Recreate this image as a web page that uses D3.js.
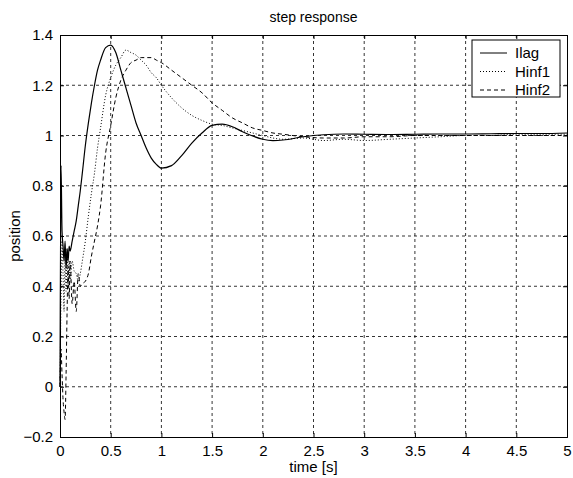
<!DOCTYPE html>
<html>
<head>
<meta charset="utf-8">
<script src="https://cdn.jsdelivr.net/npm/d3@7"></script>
<style>
  body { margin: 0; background: #fff; }
  svg text { font-family: "Liberation Sans", Arial, sans-serif; fill: #000; }
</style>
</head>
<body>
<div id="chart"></div>
<script>
// time samples [s], finer near the start
const time = [0, 0.01, 0.02, 0.03, 0.04, 0.05, 0.06, 0.07, 0.08, 0.09, 0.10, 0.12, 0.14, 0.16, 0.18, 0.20,
  0.22, 0.25, 0.28, 0.31, 0.34, 0.37, 0.40, 0.45, 0.50, 0.55, 0.60, 0.65, 0.70, 0.75, 0.80, 0.85, 0.90,
  0.95, 1.0, 1.1, 1.2, 1.3, 1.4, 1.5, 1.6, 1.7, 1.8, 1.9, 2.0, 2.1, 2.2, 2.4, 2.6, 2.8, 3.0, 3.25, 3.5,
  3.75, 4.0, 4.25, 4.5, 4.75, 5.0];

const ilag = [0, 0.88, 0.62, 0.56, 0.50, 0.58, 0.47, 0.55, 0.50, 0.56, 0.54, 0.58, 0.62, 0.66, 0.72, 0.78,
  0.85, 0.96, 1.05, 1.13, 1.20, 1.26, 1.30, 1.35, 1.36, 1.33, 1.26, 1.19, 1.12, 1.05, 1.00, 0.95, 0.91,
  0.885, 0.87, 0.88, 0.92, 0.97, 1.01, 1.04, 1.045, 1.035, 1.015, 0.998, 0.985, 0.98, 0.982, 0.995, 1.003,
  1.006, 1.005, 1.004, 1.005, 1.006, 1.006, 1.007, 1.008, 1.008, 1.01];

const hinf1 = [0, 0.35, 0.58, 0.45, 0.30, 0.52, 0.38, 0.55, 0.40, 0.50, 0.42, 0.50, 0.46, 0.45, 0.42, 0.45,
  0.50, 0.58, 0.68, 0.77, 0.85, 0.95, 1.03, 1.16, 1.23, 1.28, 1.31, 1.34, 1.33, 1.32, 1.30, 1.28, 1.25,
  1.23, 1.20, 1.15, 1.11, 1.08, 1.06, 1.045, 1.04, 1.03, 1.02, 1.01, 1.0, 0.99, 0.985, 0.99, 0.98,
  0.985, 0.98, 0.985, 0.99, 0.995, 1.0, 1.0, 1.005, 1.005, 1.005];

const hinf2 = [0, 0.15, 0.05, -0.05, -0.10, -0.13, 0.05, 0.30, 0.48, 0.35, 0.50, 0.33, 0.42, 0.30, 0.45, 0.40,
  0.41, 0.42, 0.45, 0.52, 0.58, 0.64, 0.72, 0.93, 1.04, 1.15, 1.22, 1.26, 1.29, 1.30, 1.31, 1.31, 1.31,
  1.30, 1.29, 1.26, 1.23, 1.20, 1.17, 1.13, 1.10, 1.07, 1.05, 1.03, 1.02, 1.01, 1.005, 0.995, 0.99,
  0.99, 0.995, 0.995, 1.0, 1.0, 1.0, 1.0, 1.0, 1.0, 1.0];

const xTicks = [0, 0.5, 1, 1.5, 2, 2.5, 3, 3.5, 4, 4.5, 5];
const yTicks = [-0.2, 0, 0.2, 0.4, 0.6, 0.8, 1, 1.2, 1.4];
const seriesNames = ['Ilag', 'Hinf1', 'Hinf2'];
const seriesDash = [null, '1,2', '4,3'];

const width = 573, height = 478;
const margin = { top: 35, right: 6, bottom: 41, left: 60 };
const iw = width - margin.left - margin.right;
const ih = height - margin.top - margin.bottom;

const svg = d3.select('#chart').append('svg')
    .attr('width', width)
    .attr('height', height);

const g = svg.append('g').attr('transform', `translate(${margin.left},${margin.top})`);

const x = d3.scaleLinear().domain([0, 5]).range([0, iw]);
const y = d3.scaleLinear().domain([-0.2, 1.4]).range([ih, 0]);

// dashed grid
g.selectAll('.vgrid').data(xTicks.slice(1, -1)).enter().append('line')
    .attr('x1', d => x(d)).attr('x2', d => x(d))
    .attr('y1', 0).attr('y2', ih)
    .attr('stroke', '#000').attr('stroke-width', 0.8)
    .attr('stroke-dasharray', '3,3');
g.selectAll('.hgrid').data(yTicks.slice(1, -1)).enter().append('line')
    .attr('y1', d => y(d)).attr('y2', d => y(d))
    .attr('x1', 0).attr('x2', iw)
    .attr('stroke', '#000').attr('stroke-width', 0.8)
    .attr('stroke-dasharray', '3,3');

// axes (ticks point inward like matlab)
g.append('g').attr('transform', `translate(0,${ih})`)
    .call(d3.axisBottom(x).tickValues(xTicks).tickSize(-4).tickPadding(8).tickFormat(d3.format('')));
g.append('g')
    .call(d3.axisLeft(y).tickValues(yTicks).tickSize(-4).tickPadding(7).tickFormat(d3.format('')));
g.append('g').call(d3.axisTop(x).tickValues(xTicks).tickSize(-4).tickFormat(''));
g.append('g').attr('transform', `translate(${iw},0)`)
    .call(d3.axisRight(y).tickValues(yTicks).tickSize(-4).tickFormat(''));

svg.selectAll('.domain').attr('stroke', '#000').attr('stroke-width', 1);
svg.selectAll('.tick line').attr('stroke', '#000');
svg.selectAll('.tick text').style('font-size', '15px');

// curves
const line = d3.line()
    .x((d, i) => x(time[i]))
    .y(d => y(d))
    .curve(d3.curveMonotoneX);

[ilag, hinf1, hinf2].forEach((vals, k) => {
    g.append('path')
        .datum(vals)
        .attr('d', line)
        .attr('fill', 'none')
        .attr('stroke', '#000')
        .attr('stroke-width', k === 0 ? 1.2 : 1)
        .attr('stroke-dasharray', seriesDash[k]);
});

// titles
svg.append('text')
    .attr('x', margin.left + iw / 2).attr('y', 22)
    .attr('text-anchor', 'middle').style('font-size', '14px')
    .text('step response');
svg.append('text')
    .attr('x', margin.left + iw / 2).attr('y', 472)
    .attr('text-anchor', 'middle').style('font-size', '15px')
    .text('time [s]');
svg.append('text')
    .attr('transform', `translate(20,${margin.top + ih / 2}) rotate(-90)`)
    .attr('text-anchor', 'middle').style('font-size', '15px')
    .text('position');

// legend
const leg = svg.append('g').attr('transform', 'translate(472,40)');
leg.append('rect')
    .attr('width', 88).attr('height', 57)
    .attr('fill', '#fff').attr('stroke', '#000').attr('stroke-width', 1);
seriesNames.forEach((name, k) => {
    const ly = 13 + k * 18.5;
    leg.append('line')
        .attr('x1', 8).attr('x2', 35).attr('y1', ly).attr('y2', ly)
        .attr('stroke', '#000').attr('stroke-width', 1)
        .attr('stroke-dasharray', seriesDash[k]);
    leg.append('text')
        .attr('x', 43).attr('y', ly + 5)
        .style('font-size', '15px')
        .text(name);
});
</script>
</body>
</html>
